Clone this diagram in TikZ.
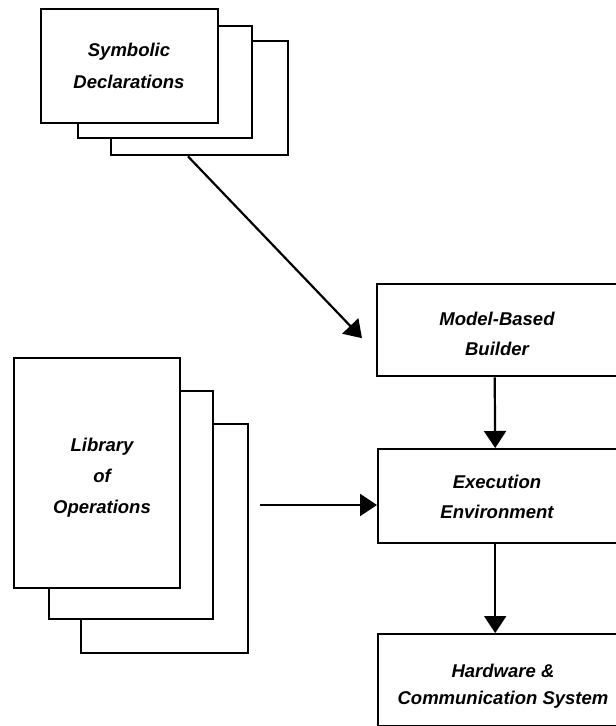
\documentclass[tikz,border=0pt]{standalone}
\usepackage{fontspec}
\setmainfont{Liberation Sans}
\usetikzlibrary{arrows.meta,calc}
\tikzset{
  box/.style={draw=black, line width=2.4pt, fill=white, rectangle, anchor=north west, inner sep=0pt},
  lbl/.style={align=center, font=\fontsize{18.5}{30}\selectfont\bfseries\itshape},
  arr/.style={draw=black, line width=2.2pt, -{Triangle[width=22pt,length=17pt]}}
}
\begin{document}
\begin{tikzpicture}[x=1pt,y=-1pt]
\useasboundingbox (0,0) rectangle (616,726);
% Symbolic declarations stack
\node[box, minimum width=177pt, minimum height=114pt] (s3) at (110,40) {};
\node[box, minimum width=174pt, minimum height=112pt] (s2) at (77,25) {};
\node[box, minimum width=177pt, minimum height=114pt] (s1) at (40,8) {};
\node[lbl, font=\fontsize{18.5}{32}\selectfont\bfseries\itshape] (st) at (129,66) {Symbolic\\Declarations};
% Library stack
\node[box, minimum width=167pt, minimum height=229pt] (l3) at (80,423) {};
\node[box, minimum width=164pt, minimum height=228pt] (l2) at (48,390) {};
\node[box, minimum width=166pt, minimum height=230pt] (l1) at (13,357) {};
\node[lbl, font=\fontsize{18.5}{31}\selectfont\bfseries\itshape] (lt) at (102,478) {Library\\of\\Operations};
% right column
\node[box, minimum width=243pt, minimum height=92pt] (mb) at (376,283) {};
\node[lbl] (mbt) at (497,334) {Model-Based\\Builder};
\node[box, minimum width=242pt, minimum height=94pt] (ex) at (377,448) {};
\node[lbl] (ext) at (497,497) {Execution\\Environment};
\node[box, minimum width=242pt, minimum height=92pt] (hw) at (377,633) {};
\node[lbl, font=\fontsize{18.5}{27}\selectfont\bfseries\itshape] (hwt) at (503,686) {Hardware \&\\Communication System};
% connectors
\coordinate (dstart) at ($(s3.south west)+(78pt,0pt)$);
\coordinate (dend) at ($(mb.west)+(-14pt,-8pt)$);
\draw[arr] (dstart) -- (dend);
\draw[arr] ($(mb.south)+(-4pt,0)$) -- ($(ex.north)+(-4pt,0)$);
\draw[arr] ($(ex.south)+(-4pt,0)$) -- ($(hw.north)+(-4pt,0)$);
\coordinate (lstart) at (260,505);
\draw[arr] (lstart) -- (ex.west |- lstart);
\end{tikzpicture}
\end{document}
